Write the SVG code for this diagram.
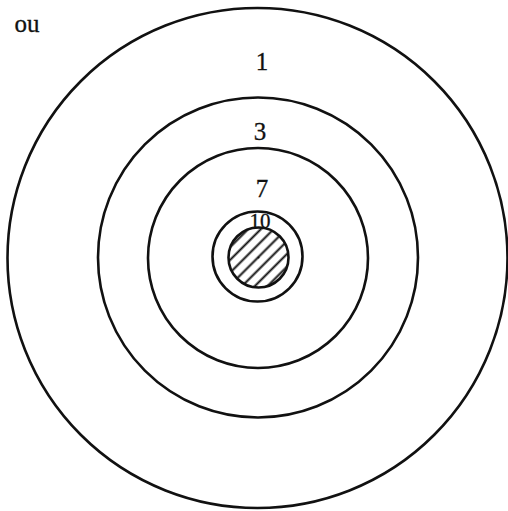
<svg xmlns="http://www.w3.org/2000/svg" width="508" height="511" viewBox="0 0 508 511">
<style>
.ring{fill:none;stroke:#111;stroke-width:2.6}
.lbl{font-family:"Liberation Serif","Times New Roman",serif;font-size:25px;fill:#111;text-anchor:middle;stroke:#111;stroke-width:0.3}
</style>
<defs>
<pattern id="hatch" patternUnits="userSpaceOnUse" width="9" height="9" patternTransform="rotate(-45)">
<line x1="0" y1="4.5" x2="9" y2="4.5" stroke="#111" stroke-width="2"/>
</pattern>
<clipPath id="core"><circle cx="258.5" cy="257.5" r="30"/></clipPath>
</defs>
<rect width="508" height="511" fill="#fff"/>
<g id="ring1"><circle class="ring" cx="257.5" cy="258" r="250"/></g>
<g id="ring3"><circle class="ring" cx="258" cy="257.5" r="160"/></g>
<g id="ring7"><circle class="ring" cx="258" cy="258" r="110"/></g>
<g id="ring10"><circle class="ring" cx="257.5" cy="256.5" r="45"/></g>
<g id="core-node">
<rect x="226" y="225" width="66" height="66" fill="url(#hatch)" clip-path="url(#core)"/>
<circle class="ring" cx="258.5" cy="257.5" r="30"/>
<circle cx="258.5" cy="257.5" r="1" fill="#111"/>
</g>
<g id="labels">
<text class="lbl" x="27" y="32" style="font-size:25px">ou</text>
<text class="lbl" x="262" y="70">1</text>
<text class="lbl" x="260" y="140">3</text>
<text class="lbl" x="262" y="197">7</text>
<text class="lbl" x="260" y="228" style="font-size:21px">10</text>
</g>
</svg>
